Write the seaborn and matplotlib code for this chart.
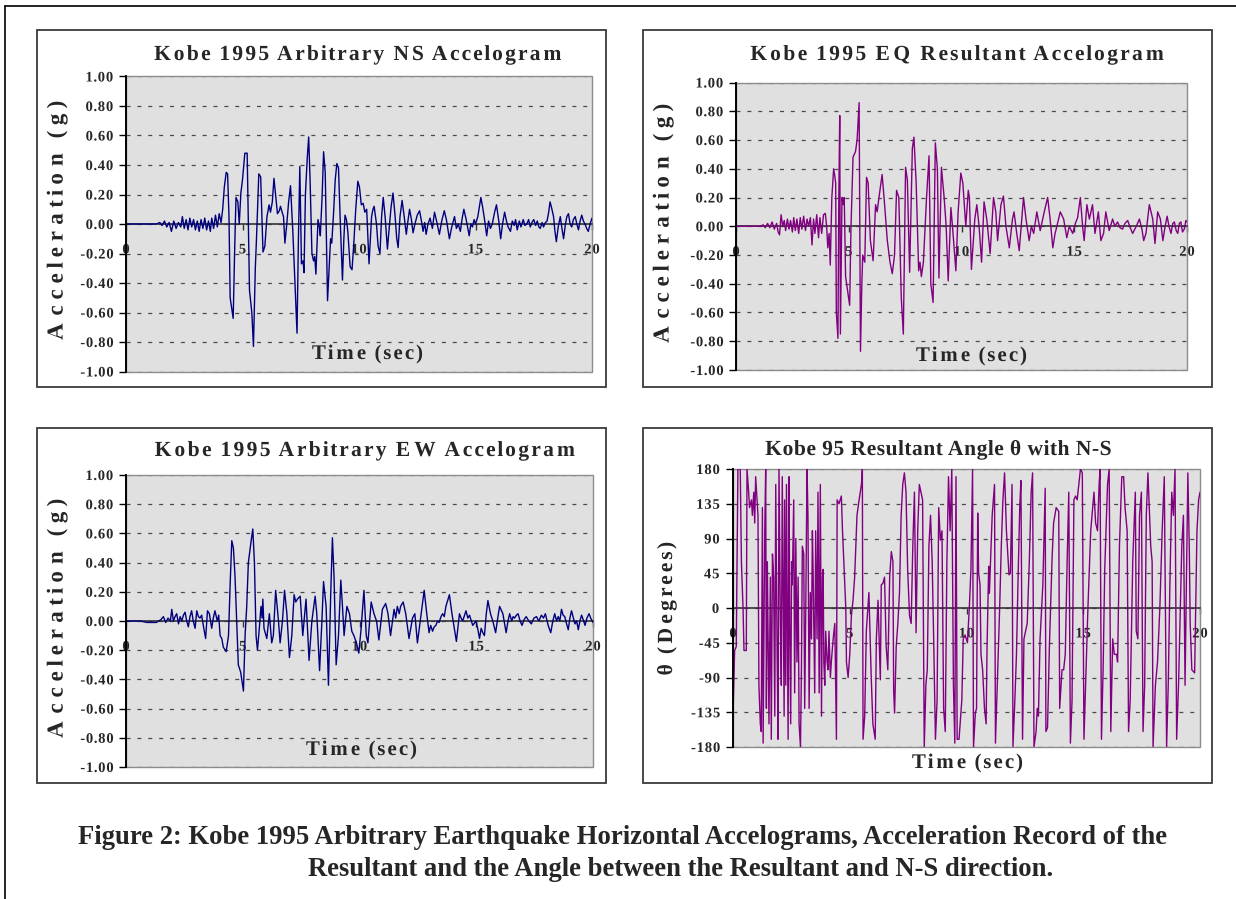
import matplotlib
matplotlib.use("Agg")
import matplotlib.pyplot as plt
from matplotlib.patches import Rectangle
from matplotlib.lines import Line2D
from matplotlib.patheffects import AbstractPathEffect
from matplotlib.path import Path
import numpy as np
import pandas as pd
import seaborn as sns

# ---------------------------------------------------------------------------
# Kobe 1995 records: (time in s, value)
# ---------------------------------------------------------------------------
ns_record = [
    (0.0, 0.0), (0.5, 0.0), (1.0, 0.0), (1.3, 0.0), (1.45, 0.01), (1.55, -0.01),
    (1.65, 0.02), (1.75, -0.02), (1.85, 0.01), (1.95, -0.05), (2.05, 0.02),
    (2.15, -0.03), (2.25, 0.01), (2.35, -0.02), (2.42, 0.05), (2.5, -0.03),
    (2.58, 0.03), (2.66, -0.04), (2.74, 0.04), (2.82, -0.02), (2.9, 0.03),
    (2.98, -0.04), (3.06, 0.02), (3.14, -0.05), (3.22, 0.03), (3.3, -0.03),
    (3.38, 0.04), (3.46, -0.04), (3.54, 0.02), (3.62, -0.05), (3.68, 0.04),
    (3.76, -0.03), (3.84, 0.06), (3.92, -0.02), (4.0, 0.07), (4.08, 0.01),
    (4.15, 0.10), (4.22, 0.25), (4.3, 0.35), (4.36, 0.34), (4.42, 0.05),
    (4.47, -0.50), (4.6, -0.64), (4.66, -0.2), (4.72, 0.18), (4.8, 0.15),
    (4.86, 0.0), (4.93, 0.21), (5.0, 0.3), (5.1, 0.48), (5.2, 0.48), (5.3, -0.45),
    (5.4, -0.6), (5.47, -0.83), (5.55, -0.3), (5.6, -0.1), (5.7, 0.34), (5.78, 0.32),
    (5.88, -0.19), (5.96, -0.15), (6.05, 0.05), (6.14, 0.13), (6.2, 0.08),
    (6.28, 0.15), (6.35, 0.31), (6.42, 0.2), (6.5, 0.07), (6.58, 0.09), (6.63, 0.12),
    (6.7, 0.08), (6.76, 0.05), (6.82, -0.13), (6.9, 0.0), (6.98, 0.15), (7.06, 0.26),
    (7.16, -0.05), (7.25, -0.4), (7.34, -0.74), (7.4, -0.1), (7.46, 0.39),
    (7.53, -0.27), (7.6, -0.25), (7.64, -0.33), (7.7, 0.2), (7.78, 0.45), (7.84, 0.59),
    (7.9, 0.3), (7.98, -0.2), (8.05, -0.25), (8.1, -0.22), (8.15, -0.34), (8.24, 0.03),
    (8.3, -0.02), (8.34, -0.08), (8.42, 0.2), (8.48, 0.49), (8.55, 0.35), (8.65, -0.52),
    (8.72, -0.3), (8.78, -0.1), (8.83, -0.13), (8.9, 0.05), (8.98, 0.3), (9.05, 0.41),
    (9.12, 0.38), (9.2, 0.0), (9.29, -0.38), (9.35, -0.1), (9.4, 0.06), (9.46, 0.03),
    (9.52, -0.05), (9.62, -0.29), (9.7, -0.31), (9.77, -0.15), (9.86, 0.1),
    (9.95, 0.29), (10.02, 0.25), (10.1, 0.13), (10.18, 0.14), (10.25, 0.08),
    (10.33, 0.1), (10.43, -0.27), (10.54, 0.05), (10.6, 0.1), (10.65, 0.12),
    (10.75, 0.0), (10.82, -0.15), (10.9, -0.2), (10.97, 0.05), (11.04, 0.18),
    (11.12, 0.05), (11.22, -0.17), (11.3, -0.02), (11.38, 0.12), (11.46, 0.21),
    (11.55, 0.05), (11.62, -0.1), (11.68, -0.16), (11.76, 0.05), (11.85, 0.16),
    (11.94, 0.05), (12.03, -0.07), (12.1, 0.02), (12.17, 0.1), (12.25, 0.03),
    (12.32, -0.06), (12.4, 0.0), (12.5, 0.06), (12.6, 0.09), (12.68, 0.02),
    (12.75, -0.05), (12.82, 0.01), (12.88, -0.07), (12.96, 0.0), (13.05, 0.04),
    (13.15, -0.03), (13.24, 0.08), (13.33, 0.02), (13.45, -0.07), (13.55, 0.02),
    (13.66, 0.09), (13.75, 0.03), (13.88, -0.1), (13.98, -0.02), (14.1, 0.05),
    (14.18, -0.03), (14.26, 0.0), (14.35, -0.05), (14.43, 0.04), (14.5, 0.1),
    (14.6, 0.03), (14.73, -0.08), (14.8, 0.0), (14.87, -0.02), (14.94, 0.03),
    (15.0, 0.0), (15.1, 0.05), (15.23, 0.18), (15.3, 0.12), (15.37, 0.05),
    (15.48, -0.08), (15.56, 0.02), (15.64, -0.03), (15.72, 0.0), (15.82, 0.08),
    (15.9, 0.13), (16.0, 0.02), (16.08, -0.1), (16.16, 0.0), (16.25, 0.08),
    (16.33, 0.02), (16.4, -0.02), (16.5, -0.05), (16.58, 0.02), (16.66, -0.01),
    (16.72, 0.03), (16.79, -0.04), (16.88, 0.02), (16.95, -0.02), (17.05, 0.03),
    (17.12, -0.01), (17.2, 0.0), (17.28, 0.03), (17.35, -0.02), (17.42, 0.01),
    (17.5, 0.03), (17.58, -0.01), (17.65, 0.02), (17.72, -0.02), (17.78, -0.03),
    (17.86, 0.01), (17.92, -0.02), (18.0, 0.01), (18.07, 0.02), (18.14, 0.08),
    (18.2, 0.15), (18.28, 0.1), (18.35, 0.05), (18.41, -0.05), (18.47, -0.12),
    (18.55, -0.02), (18.64, 0.05), (18.7, -0.02), (18.78, -0.1), (18.86, 0.0),
    (18.92, 0.05), (18.99, 0.07), (19.06, 0.0), (19.13, -0.02), (19.2, 0.03),
    (19.28, 0.05), (19.35, 0.0), (19.42, -0.04), (19.49, 0.02), (19.56, 0.06),
    (19.63, 0.02), (19.7, 0.0), (19.77, -0.03), (19.84, -0.05), (19.92, 0.0),
    (20.0, 0.04),
]

resultant_record = [
    (0.0, 0.0), (0.6, 0.0), (1.1, 0.0), (1.2, 0.01), (1.3, -0.01), (1.4, 0.02),
    (1.5, -0.01), (1.6, 0.03), (1.7, -0.02), (1.8, 0.02), (1.87, -0.04), (1.93, -0.06),
    (2.0, 0.08), (2.07, 0.0), (2.14, 0.04), (2.2, -0.03), (2.28, 0.05), (2.35, -0.02),
    (2.42, 0.04), (2.5, -0.04), (2.56, 0.06), (2.63, -0.03), (2.7, 0.05), (2.78, -0.05),
    (2.85, 0.06), (2.92, -0.02), (3.0, 0.07), (3.08, -0.03), (3.15, 0.05), (3.22, 0.0),
    (3.3, 0.06), (3.37, -0.13), (3.44, 0.05), (3.5, -0.05), (3.58, 0.08), (3.66, -0.08),
    (3.72, 0.06), (3.8, -0.05), (3.88, 0.08), (3.96, 0.09), (4.02, 0.0), (4.07, -0.15),
    (4.13, -0.05), (4.18, -0.27), (4.25, 0.2), (4.33, 0.40), (4.38, 0.35), (4.42, 0.3),
    (4.45, -0.6), (4.52, -0.78), (4.56, 0.2), (4.6, 0.77), (4.63, -0.75), (4.7, 0.2),
    (4.75, 0.15), (4.8, 0.2), (4.86, -0.35), (4.95, -0.45), (5.04, -0.55), (5.1, 0.0),
    (5.19, 0.48), (5.3, 0.52), (5.37, 0.6), (5.46, 0.86), (5.52, -0.87), (5.58, -0.4),
    (5.62, -0.2), (5.71, -0.25), (5.79, 0.34), (5.86, 0.3), (5.96, -0.1), (6.08, -0.24),
    (6.19, 0.15), (6.26, 0.1), (6.34, 0.2), (6.48, 0.36), (6.59, 0.15), (6.71, -0.1),
    (6.83, -0.25), (6.93, -0.33), (7.03, -0.2), (7.12, 0.25), (7.22, 0.2), (7.33, -0.5),
    (7.42, -0.75), (7.52, 0.41), (7.6, 0.32), (7.7, -0.32), (7.82, 0.54), (7.89, 0.62),
    (7.99, 0.3), (8.1, -0.31), (8.16, -0.25), (8.22, -0.35), (8.31, -0.25), (8.45, 0.2),
    (8.56, 0.49), (8.64, -0.4), (8.74, -0.53), (8.84, 0.58), (8.93, 0.4), (9.0, -0.36),
    (9.11, 0.41), (9.23, 0.2), (9.32, 0.0), (9.41, -0.38), (9.53, 0.13), (9.6, 0.0),
    (9.75, -0.31), (9.85, 0.1), (9.97, 0.37), (10.06, 0.3), (10.19, 0.0), (10.3, 0.25),
    (10.35, 0.2), (10.44, -0.3), (10.59, 0.05), (10.68, 0.15), (10.78, 0.0),
    (10.89, -0.25), (11.0, 0.17), (11.12, 0.05), (11.27, -0.19), (11.42, 0.2),
    (11.52, 0.1), (11.6, -0.1), (11.75, 0.15), (11.86, 0.21), (11.97, 0.0),
    (12.12, -0.15), (12.26, 0.05), (12.33, 0.1), (12.45, -0.05), (12.56, -0.17),
    (12.75, 0.2), (12.86, 0.05), (13.0, -0.1), (13.1, 0.0), (13.2, -0.05), (13.34, 0.1),
    (13.49, -0.03), (13.67, 0.1), (13.82, 0.2), (13.93, 0.05), (14.05, -0.15),
    (14.15, -0.05), (14.23, 0.0), (14.38, 0.1), (14.53, 0.05), (14.67, -0.08),
    (14.78, 0.0), (14.93, -0.05), (15.05, 0.02), (15.15, 0.06), (15.27, 0.2),
    (15.37, 0.0), (15.44, -0.1), (15.56, 0.15), (15.67, 0.05), (15.81, 0.15),
    (15.92, -0.05), (16.07, 0.1), (16.18, -0.1), (16.3, -0.05), (16.4, 0.1),
    (16.55, -0.03), (16.7, 0.05), (16.8, 0.0), (16.92, 0.03), (17.03, -0.01),
    (17.14, -0.02), (17.25, 0.02), (17.37, 0.04), (17.48, -0.01), (17.59, -0.05),
    (17.75, 0.0), (17.89, 0.05), (18.0, -0.02), (18.08, -0.1), (18.18, -0.05),
    (18.33, 0.15), (18.48, 0.05), (18.58, -0.12), (18.7, 0.1), (18.82, 0.05),
    (18.93, -0.1), (19.03, 0.0), (19.12, 0.07), (19.2, 0.0), (19.29, -0.05),
    (19.37, 0.02), (19.44, 0.03), (19.52, -0.03), (19.59, -0.05), (19.66, 0.02),
    (19.73, 0.03), (19.8, -0.04), (19.88, -0.02), (19.95, 0.04), (20.0, 0.03),
]

ew_record = [
    (0.0, 0.0), (0.6, 0.0), (0.9, -0.01), (1.3, -0.01), (1.5, 0.01), (1.6, 0.03),
    (1.7, -0.01), (1.8, 0.02), (1.9, 0.0), (1.96, 0.08), (2.03, 0.0), (2.1, 0.03),
    (2.17, 0.05), (2.25, -0.02), (2.32, 0.03), (2.39, 0.0), (2.46, 0.04), (2.53, 0.06),
    (2.6, 0.0), (2.67, -0.04), (2.74, 0.03), (2.81, 0.07), (2.88, 0.0), (2.96, -0.05),
    (3.03, 0.07), (3.1, 0.03), (3.17, 0.02), (3.24, 0.04), (3.31, -0.03), (3.41, -0.12),
    (3.49, 0.07), (3.57, 0.05), (3.67, -0.05), (3.74, 0.02), (3.81, 0.07), (3.91, 0.0),
    (3.97, 0.04), (4.03, -0.1), (4.1, -0.12), (4.17, -0.18), (4.29, -0.21),
    (4.39, -0.1), (4.46, 0.25), (4.53, 0.55), (4.6, 0.5), (4.67, 0.3), (4.74, 0.0),
    (4.81, -0.3), (4.91, -0.35), (5.03, -0.48), (5.1, -0.1), (5.17, 0.1), (5.24, 0.4),
    (5.36, 0.55), (5.43, 0.63), (5.5, 0.4), (5.57, -0.1), (5.63, -0.2), (5.71, -0.05),
    (5.78, 0.1), (5.83, 0.02), (5.86, 0.15), (5.91, -0.05), (6.03, -0.12), (6.14, 0.05),
    (6.24, -0.15), (6.31, -0.1), (6.41, 0.21), (6.53, 0.0), (6.6, -0.15), (6.7, 0.0),
    (6.79, 0.21), (6.89, 0.05), (7.0, -0.25), (7.1, -0.1), (7.2, 0.18), (7.27, 0.13),
    (7.34, 0.15), (7.46, 0.17), (7.57, -0.1), (7.71, 0.15), (7.84, -0.27), (7.96, 0.0),
    (8.1, 0.17), (8.17, 0.05), (8.29, -0.34), (8.39, 0.0), (8.46, 0.27), (8.57, 0.1),
    (8.67, -0.44), (8.77, 0.2), (8.84, 0.57), (8.91, 0.3), (9.0, -0.3), (9.1, -0.1),
    (9.2, 0.28), (9.27, 0.1), (9.34, -0.1), (9.46, 0.1), (9.57, 0.05), (9.67, -0.07),
    (9.76, -0.1), (9.87, -0.15), (9.97, -0.22), (10.07, -0.05), (10.19, 0.21),
    (10.29, -0.1), (10.36, -0.15), (10.5, 0.13), (10.62, 0.05), (10.73, 0.0),
    (10.83, -0.13), (10.98, 0.08), (11.12, 0.12), (11.22, 0.05), (11.33, -0.1),
    (11.48, 0.08), (11.55, 0.02), (11.62, 0.1), (11.7, 0.05), (11.76, 0.1),
    (11.87, 0.13), (11.98, 0.05), (12.12, -0.12), (12.27, 0.02), (12.37, 0.05),
    (12.48, -0.15), (12.6, 0.0), (12.77, 0.21), (12.88, 0.05), (12.98, -0.08),
    (13.05, -0.03), (13.13, -0.07), (13.2, -0.04), (13.27, -0.03), (13.34, 0.0),
    (13.41, -0.01), (13.49, 0.03), (13.56, 0.05), (13.63, 0.03), (13.7, 0.1),
    (13.85, 0.18), (13.96, 0.05), (14.06, -0.05), (14.15, -0.14), (14.28, 0.05),
    (14.35, 0.02), (14.42, 0.0), (14.56, 0.07), (14.64, 0.02), (14.71, 0.04),
    (14.85, -0.03), (14.99, 0.0), (15.06, -0.05), (15.14, -0.12), (15.21, -0.05),
    (15.28, -0.08), (15.35, -0.1), (15.43, 0.05), (15.5, 0.14), (15.61, 0.05),
    (15.71, 0.0), (15.83, -0.08), (15.92, 0.02), (16.0, 0.1), (16.14, 0.05),
    (16.28, -0.08), (16.36, 0.0), (16.43, 0.05), (16.52, 0.0), (16.58, 0.03),
    (16.64, 0.02), (16.72, 0.04), (16.79, 0.05), (16.88, 0.0), (16.96, -0.03),
    (17.05, 0.01), (17.14, 0.03), (17.25, 0.0), (17.36, -0.02), (17.47, 0.02),
    (17.58, 0.03), (17.68, 0.0), (17.79, 0.04), (17.88, 0.02), (17.96, 0.05),
    (18.08, -0.03), (18.19, -0.08), (18.28, 0.0), (18.36, 0.05), (18.44, 0.0),
    (18.51, 0.03), (18.58, 0.0), (18.65, 0.08), (18.72, 0.04), (18.79, 0.03),
    (18.87, -0.02), (18.94, -0.06), (19.01, 0.02), (19.08, 0.07), (19.16, 0.02),
    (19.23, -0.02), (19.3, 0.0), (19.37, -0.06), (19.44, 0.0), (19.51, 0.04),
    (19.58, 0.01), (19.66, -0.03), (19.74, 0.02), (19.83, 0.05), (19.9, 0.02),
    (19.97, 0.0), (20.0, -0.01),
]

angle_record = [
    (0.0, -140), (0.07, -55), (0.14, -50), (0.21, 180), (0.31, 180), (0.36, 60),
    (0.43, 0), (0.47, -55), (0.57, -55), (0.6, 180), (0.67, 150), (0.71, 130),
    (0.79, 140), (0.83, 120), (0.89, 150), (0.93, 110), (0.97, 170), (1.03, 140),
    (1.07, 120), (1.11, -100), (1.17, -150), (1.21, -160), (1.26, 130), (1.29, -175),
    (1.36, 100), (1.4, 180), (1.43, -130), (1.47, 60), (1.54, -150), (1.6, 40),
    (1.64, -170), (1.69, 70), (1.74, 40), (1.79, -140), (1.83, 160), (1.89, -60),
    (1.93, -170), (1.97, 180), (2.03, -20), (2.07, -100), (2.11, 170), (2.14, 50),
    (2.19, -140), (2.21, 140), (2.26, -100), (2.29, 160), (2.33, -40), (2.36, -170),
    (2.4, 170), (2.43, -20), (2.47, -150), (2.51, 60), (2.54, 30), (2.6, 140),
    (2.64, -110), (2.69, 90), (2.74, -70), (2.79, 40), (2.83, -150), (2.89, -180),
    (2.93, -80), (2.97, 80), (3.03, 70), (3.07, -130), (3.11, -20), (3.17, 180),
    (3.21, 120), (3.26, -130), (3.31, 20), (3.36, -40), (3.4, 100), (3.43, 50),
    (3.5, -110), (3.54, 100), (3.6, -40), (3.64, 150), (3.69, -110), (3.74, 160),
    (3.79, -140), (3.83, 40), (3.86, 50), (3.89, -70), (3.93, -100), (3.97, -30),
    (4.03, -70), (4.07, -80), (4.11, -30), (4.17, -90), (4.21, -70), (4.29, -40),
    (4.36, -20), (4.43, -170), (4.46, 140), (4.54, 135), (4.64, 145), (4.69, 100),
    (4.76, 50), (4.83, 0), (4.86, -70), (4.93, -90), (5.0, -60), (5.07, -10),
    (5.14, 10), (5.21, 40), (5.31, 120), (5.4, 140), (5.5, 160), (5.54, 180),
    (5.57, -170), (5.64, -140), (5.71, -30), (5.82, 20), (5.92, -90), (5.99, -150),
    (6.09, -170), (6.14, -40), (6.21, 10), (6.28, -60), (6.31, -93), (6.35, 30),
    (6.42, 32), (6.49, 40), (6.56, -50), (6.63, -80), (6.71, 40), (6.78, 73),
    (6.85, 60), (6.88, -106), (6.92, -136), (6.99, -50), (7.06, -20), (7.13, 20),
    (7.2, 119), (7.27, 160), (7.34, 175), (7.41, 150), (7.48, 50), (7.56, -10),
    (7.63, -20), (7.7, 80), (7.77, 150), (7.84, -32), (7.91, 100), (7.98, 160),
    (8.05, 150), (8.12, 140), (8.19, -180), (8.26, -100), (8.32, -80), (8.39, 80),
    (8.46, 120), (8.53, 60), (8.6, -50), (8.67, -170), (8.74, -120), (8.81, 130),
    (8.88, 88), (8.95, 100), (9.02, -130), (9.09, -160), (9.16, 60), (9.23, 170),
    (9.3, 100), (9.37, 180), (9.44, -100), (9.5, -175), (9.55, 170), (9.6, -170),
    (9.68, -170), (9.8, -119), (9.86, -40), (9.94, -35), (10.04, -45), (10.12, 0),
    (10.19, 50), (10.26, 180), (10.3, -180), (10.38, -136), (10.43, -130),
    (10.48, 123), (10.52, 45), (10.58, 30), (10.62, -60), (10.69, -80), (10.77, -130),
    (10.84, -150), (10.88, -50), (10.95, 54), (10.98, 19), (11.1, 120), (11.2, 160),
    (11.24, -175), (11.34, -80), (11.42, 0), (11.49, 80), (11.56, 140), (11.63, 175),
    (11.71, 100), (11.82, 43), (11.88, 45), (11.95, 160), (11.99, -180), (12.07, -120),
    (12.14, -60), (12.21, 40), (12.28, 130), (12.33, 165), (12.4, -170), (12.46, -40),
    (12.6, -20), (12.69, 60), (12.77, 150), (12.83, 175), (12.89, -180), (12.98, -160),
    (13.03, -130), (13.08, -140), (13.15, -40), (13.27, 30), (13.37, 155), (13.4, -160),
    (13.47, -155), (13.55, -50), (13.66, 60), (13.73, 110), (13.84, 130), (13.95, 125),
    (13.99, -130), (14.09, -80), (14.16, -80), (14.23, -60), (14.31, 60), (14.38, 150),
    (14.45, -175), (14.52, -120), (14.6, 140), (14.67, 145), (14.74, 140), (14.81, 160),
    (14.88, 180), (14.96, 175), (15.03, -170), (15.1, -100), (15.2, 0), (15.32, 100),
    (15.46, 150), (15.53, 110), (15.61, 100), (15.68, 160), (15.72, 180), (15.78, -170),
    (15.85, -80), (15.92, 50), (16.04, 160), (16.11, 180), (16.18, -160), (16.26, -40),
    (16.33, -60), (16.43, -60), (16.47, -70), (16.55, 80), (16.65, 170), (16.73, 170),
    (16.79, 130), (16.88, 100), (16.94, -160), (17.01, -120), (17.12, 60), (17.23, 150),
    (17.27, -30), (17.34, -40), (17.41, 120), (17.49, 150), (17.56, -160), (17.63, -100),
    (17.7, 120), (17.77, 175), (17.89, 80), (17.95, 60), (17.99, -180), (18.09, -100),
    (18.18, -70), (18.28, 0), (18.38, 100), (18.47, 170), (18.57, -180), (18.64, -100),
    (18.71, 30), (18.79, 150), (18.86, 120), (18.93, 180), (19.0, -170), (19.08, -100),
    (19.22, 80), (19.29, 120), (19.36, -100), (19.48, 175), (19.54, 80), (19.58, -20),
    (19.65, -80), (19.77, -84), (19.87, 100), (19.94, 140), (20.0, 150),
]

time_ticks = [0, 5, 10, 15, 20]
acc_ticks = [1.0, 0.8, 0.6, 0.4, 0.2, 0.0, -0.2, -0.4, -0.6, -0.8, -1.0]
acc_tick_labels = ["1.00", "0.80", "0.60", "0.40", "0.20", "0.00",
                   "-0.20", "-0.40", "-0.60", "-0.80", "-1.00"]
angle_ticks = [180, 135, 90, 45, 0, -45, -90, -135, -180]
angle_tick_labels = ["180", "135", "90", "45", "0", "-45", "-90", "-135", "-180"]

titles = [
    "Kobe 1995 Arbitrary NS Accelogram",
    "Kobe 1995 EQ Resultant Accelogram",
    "Kobe 1995 Arbitrary EW Accelogram",
    "Kobe 95 Resultant Angle θ with N-S",
]
caption_lines = [
    "Figure 2: Kobe 1995 Arbitrary Earthquake Horizontal Accelograms, Acceleration Record of the",
    "Resultant and the Angle between the Resultant and N-S direction.",
]

NAVY = "#00007f"
PURPLE = "#800080"
PLOT_BG = "#e0e0e0"


class Tracking(AbstractPathEffect):
    """Spread the glyphs of a text apart (letter spacing), keeping its centre."""

    def __init__(self, factor):
        super().__init__()
        self.factor = factor

    def draw_path(self, renderer, gc, tpath, affine, rgbFace=None):
        codes = tpath.codes
        verts = np.array(tpath.vertices, dtype=float)
        if codes is None or len(verts) == 0:
            renderer.draw_path(gc, tpath, affine, rgbFace)
            return
        real = codes != Path.CLOSEPOLY
        mid = 0.5 * (verts[real, 0].min() + verts[real, 0].max())
        starts = list(np.flatnonzero(codes == Path.MOVETO)) + [len(verts)]
        for a, b in zip(starts[:-1], starts[1:]):
            sel = real[a:b]
            seg = verts[a:b, 0][sel]
            if seg.size == 0:
                continue
            c = 0.5 * (seg.min() + seg.max())
            verts[a:b, 0] += (self.factor - 1.0) * (c - mid)
        renderer.draw_path(gc, Path(verts, codes), affine, rgbFace)


# ---------------------------------------------------------------------------
sns.set_style("white")
plt.rcParams["font.family"] = ["Liberation Serif", "DejaVu Serif"]
plt.rcParams["font.weight"] = "bold"
plt.rcParams["axes.unicode_minus"] = False

W, H = 1236, 899
fig = plt.figure(figsize=(W / 100, H / 100), dpi=100)
fig.patch.set_facecolor("white")


def fx(x):
    return x / W


def fy(y):
    return 1 - y / H


def axes_px(x0, y0, x1, y1):
    return fig.add_axes([fx(x0), fy(y1), (x1 - x0) / W, (y1 - y0) / H])


def frame_px(x0, y0, x1, y1):
    fig.add_artist(Rectangle((fx(x0), fy(y1)), (x1 - x0) / W, (y1 - y0) / H,
                             transform=fig.transFigure, fill=False,
                             edgecolor="#3a3a3a", linewidth=1.3))


def spaced_text(x, y, text, size, spacing, **kw):
    return fig.text(fx(x), fy(y), text, ha="center", va="center", fontsize=size,
                    fontweight="bold", path_effects=[Tracking(spacing)], **kw)


def draw_series(ax, record, color, ylim, ticks, labels):
    df = pd.DataFrame(record, columns=["time", "value"])
    ax.set_facecolor(PLOT_BG)
    sns.lineplot(data=df, x="time", y="value", ax=ax, color=color,
                 linewidth=1.0, estimator=None, sort=False, zorder=3)
    ax.set_xlim(0, 20)
    ax.set_ylim(*ylim)
    ax.set_xlabel("")
    ax.set_ylabel("")
    ax.set_yticks(ticks)
    ax.set_yticklabels(labels)
    ax.set_xticks(time_ticks)
    ax.set_xticklabels([str(t) for t in time_ticks])
    ax.yaxis.grid(True, linestyle=(0, (3.2, 5.5)), color="#4a4a4a", linewidth=0.9)
    ax.xaxis.grid(False)
    ax.set_axisbelow(True)
    for side in ("top", "right"):
        ax.spines[side].set_visible(False)
    ax.spines["left"].set_color("black")
    ax.spines["left"].set_linewidth(1.4)
    ax.spines["left"].set_zorder(4)
    ax.spines["bottom"].set_position(("data", 0))
    ax.spines["bottom"].set_color("#333333")
    ax.spines["bottom"].set_linewidth(1.2)
    ax.spines["bottom"].set_zorder(2.5)
    ax.add_patch(Rectangle((0, 0), 1, 1, transform=ax.transAxes, fill=False,
                           edgecolor="#8c8c8c", linewidth=1.0, zorder=1, clip_on=False))
    ax.tick_params(axis="y", direction="out", length=5, width=1.0, color="black",
                   labelsize=10.5, pad=5, left=True)
    ax.tick_params(axis="x", direction="out", length=4, width=1.0, color="#333333",
                   labelsize=10.5, pad=10, bottom=True)
    for lab in ax.get_yticklabels() + ax.get_xticklabels():
        lab.set_path_effects([Tracking(1.12)])


# panel frames
frame_px(37, 30, 606, 387)
frame_px(643, 30, 1212, 387)
frame_px(37, 428, 606, 783)
frame_px(643, 428, 1212, 783)

# page border
fig.add_artist(Line2D([fx(5), fx(1236)], [fy(6), fy(6)], transform=fig.transFigure,
                      color="black", linewidth=1.2))
fig.add_artist(Line2D([fx(5), fx(5)], [fy(6), fy(899)], transform=fig.transFigure,
                      color="black", linewidth=1.2))

ax_ns = axes_px(126, 76.5, 592, 371.5)
ax_res = axes_px(736, 82.5, 1187, 370)
ax_ew = axes_px(126, 475, 593, 767)
ax_ang = axes_px(733, 469, 1200, 747)

draw_series(ax_ns, ns_record, NAVY, (-1, 1), acc_ticks, acc_tick_labels)
draw_series(ax_res, resultant_record, PURPLE, (-1, 1), acc_ticks, acc_tick_labels)
draw_series(ax_ew, ew_record, NAVY, (-1, 1), acc_ticks, acc_tick_labels)
draw_series(ax_ang, angle_record, PURPLE, (-180, 180), angle_ticks, angle_tick_labels)

# panel titles
title_pos = [(358, 55), (957, 55), (365, 451), (938, 450)]
title_spacing = [1.21, 1.22, 1.22, 1.05]
for (x, y), text, sp in zip(title_pos, titles, title_spacing):
    spaced_text(x, y, text, 15.5, sp)

# axis titles
for (x, y) in [(57, 222), (663, 225), (57, 620)]:
    spaced_text(x, y, "Acceleration (g)", 16.5, 1.58, rotation=90)
spaced_text(667, 609, "θ (Degrees)", 15.5, 1.32, rotation=90)

for (x, y) in [(367, 354), (971, 356), (361, 750), (967, 763)]:
    spaced_text(x, y, "Time (sec)", 15, 1.24, zorder=10)

# caption
fig.text(fx(623), fy(838), caption_lines[0], ha="center", va="center",
         fontsize=19.2, fontweight="bold")
fig.text(fx(681), fy(869), caption_lines[1], ha="center", va="center",
         fontsize=19.2, fontweight="bold")

fig.savefig("out.png", dpi=100, facecolor="white")
